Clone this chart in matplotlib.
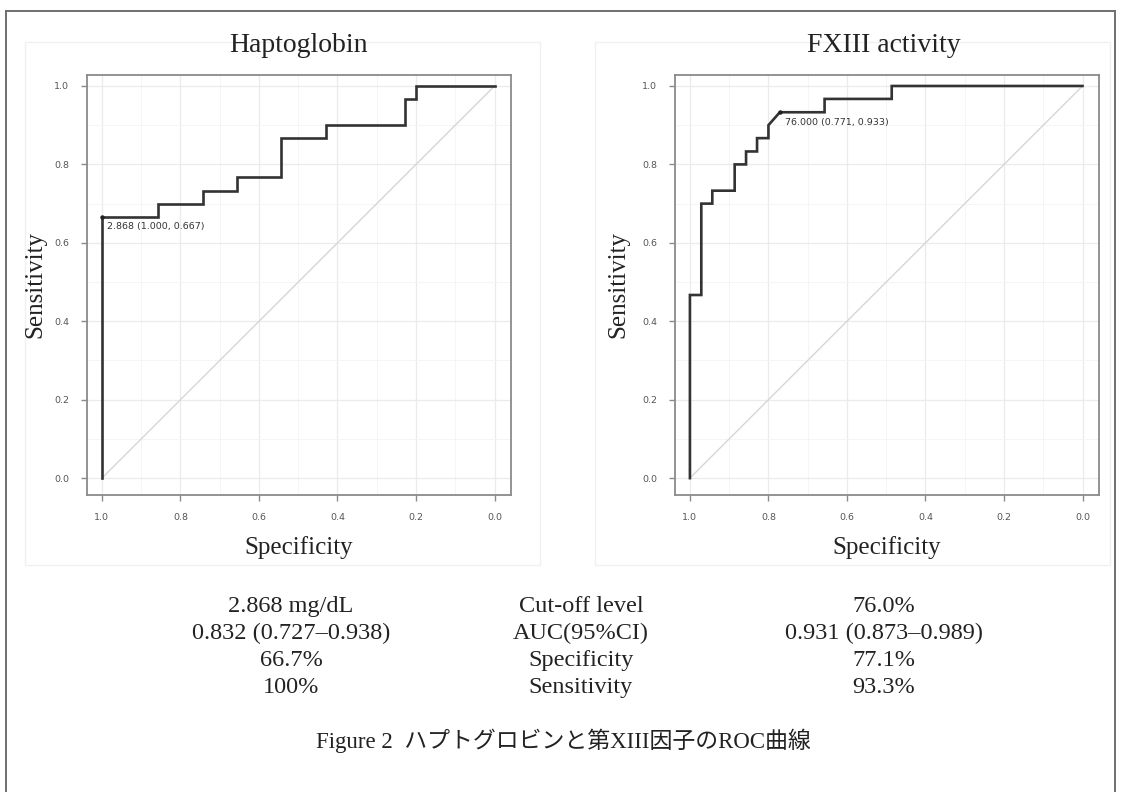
import matplotlib
matplotlib.use("Agg")
import matplotlib.pyplot as plt
from matplotlib.patches import Rectangle
from matplotlib.lines import Line2D
from matplotlib.ticker import MultipleLocator

# ---------------- data ----------------
panel_titles = ["Haptoglobin", "FXIII activity"]

hapto_spec = [1.000, 1.000, 0.857, 0.857, 0.743, 0.743, 0.657, 0.657, 0.543, 0.543,
              0.429, 0.429, 0.229, 0.229, 0.200, 0.200, 0.000]
hapto_sens = [0.000, 0.667, 0.667, 0.700, 0.700, 0.733, 0.733, 0.767, 0.767, 0.867,
              0.867, 0.900, 0.900, 0.967, 0.967, 1.000, 1.000]

fxiii_spec = [1.000, 1.000, 0.971, 0.971, 0.943, 0.943, 0.886, 0.886, 0.857, 0.857,
              0.829, 0.829, 0.800, 0.800, 0.771, 0.657, 0.657, 0.486, 0.486, 0.000]
fxiii_sens = [0.000, 0.467, 0.467, 0.700, 0.700, 0.733, 0.733, 0.800, 0.800, 0.833,
              0.833, 0.867, 0.867, 0.900, 0.933, 0.933, 0.967, 0.967, 1.000, 1.000]

best_points = [(1.000, 0.667), (0.771, 0.933)]
best_labels = ["2.868 (1.000, 0.667)", "76.000 (0.771, 0.933)"]

tick_values = [0.0, 0.2, 0.4, 0.6, 0.8, 1.0]
tick_labels = ["0.0", "0.2", "0.4", "0.6", "0.8", "1.0"]

table_left = ["2.868 mg/dL", "0.832 (0.727\u20130.938)", "66.7%", "100%"]
table_mid = ["Cut-off level", "AUC(95%CI)", "Specificity", "Sensitivity"]
table_right = ["76.0%", "0.931 (0.873\u20130.989)", "77.1%", "93.3%"]

caption = "Figure 2  ハプトグロビンと第XIII因子のROC曲線"

# ---------------- figure ----------------
W, H = 1121, 792
fig = plt.figure(figsize=(W / 100, H / 100), dpi=100)
fig.patch.set_facecolor("white")

SERIF = ["Liberation Serif", "DejaVu Serif"]
MIXED = ["Liberation Serif", "Noto Sans CJK JP", "DejaVu Sans"]


def fx(px):
    return px / W


def fy(py):
    return 1 - py / H


# outer frame (top, left, right)
fig.add_artist(Line2D([fx(6), fx(1115)], [fy(11), fy(11)], color="#6f6f6f", lw=1.4))
fig.add_artist(Line2D([fx(6), fx(6)], [fy(11), fy(792)], color="#6f6f6f", lw=1.4))
fig.add_artist(Line2D([fx(1115), fx(1115)], [fy(11), fy(792)], color="#6f6f6f", lw=1.4))

# faint panel backgrounds
for (x0, x1) in [(25, 540), (595, 1110)]:
    fig.add_artist(Rectangle((fx(x0), fy(565)), fx(x1 - x0), (565 - 42) / H,
                             fill=False, edgecolor="#f0f0f0", lw=1.0))

axes_px = [(87, 75, 424, 420), (675, 75, 424, 420)]
curves = [(hapto_spec, hapto_sens), (fxiii_spec, fxiii_sens)]
title_x = [299, 884]
ylabel_x = [35, 618]

for i, (l, t, w, h) in enumerate(axes_px):
    ax = fig.add_axes([fx(l), fy(t + h), w / W, h / H])
    ax.set_xlim(1.038, -0.042)
    ax.set_ylim(-0.043, 1.028)
    ax.xaxis.set_major_locator(MultipleLocator(0.2))
    ax.yaxis.set_major_locator(MultipleLocator(0.2))
    ax.xaxis.set_minor_locator(MultipleLocator(0.1))
    ax.yaxis.set_minor_locator(MultipleLocator(0.1))
    ax.grid(which="major", color="#ebebeb", lw=0.9)
    ax.grid(which="minor", color="#f5f5f5", lw=0.7)
    ax.set_axisbelow(True)
    ax.set_xticks(tick_values)
    ax.set_xticklabels(tick_labels)
    ax.set_yticks(tick_values)
    ax.set_yticklabels(tick_labels)
    ax.tick_params(which="major", direction="out", length=4, width=1.0, color="#8a8a8a",
                   labelsize=6.8, labelcolor="#555555", pad=9)
    ax.tick_params(which="minor", length=0)
    for sp in ax.spines.values():
        sp.set_color("#8a8a8a")
        sp.set_linewidth(1.3)

    # chance diagonal
    ax.plot([1.0, 0.0], [0.0, 1.0], color="#d6d6d6", lw=1.0, zorder=2)
    spec, sens = curves[i]
    ax.plot(spec, sens, color="#333333", lw=1.9, zorder=3, solid_joinstyle="miter")
    bx, by = best_points[i]
    ax.plot([bx], [by], marker="o", ms=2.2, color="#222222", zorder=4)
    ax.annotate(best_labels[i], xy=(bx, by), xytext=(4, -4), textcoords="offset points",
                ha="left", va="top", fontsize=6.8, color="#333333")

    fig.text(fx(title_x[i]), fy(46), panel_titles[i], family=SERIF, fontsize=20,
             ha="center", va="center", color="#222222")
    fig.text(fx(ylabel_x[i]), fy(t + h / 2), "Sensitivity", family=SERIF, fontsize=18,
             ha="center", va="center", rotation=90, color="#222222")
    fig.text(fx(l + w / 2), fy(548), "Specificity", family=SERIF, fontsize=18,
             ha="center", va="center", color="#222222")

# table below (aligned on baselines)
row_base = [612, 639, 666, 693]
col_x = [291, 581, 884]
for j in range(4):
    for cx, col in zip(col_x, [table_left, table_mid, table_right]):
        fig.text(fx(cx), fy(row_base[j]), col[j], family=SERIF, fontsize=17.5,
                 ha="center", va="baseline", color="#222222")

fig.text(fx(563), fy(748), caption, family=MIXED, fontsize=16.5,
         ha="center", va="baseline", color="#222222")

fig.savefig("out.png", dpi=100, facecolor="white")
